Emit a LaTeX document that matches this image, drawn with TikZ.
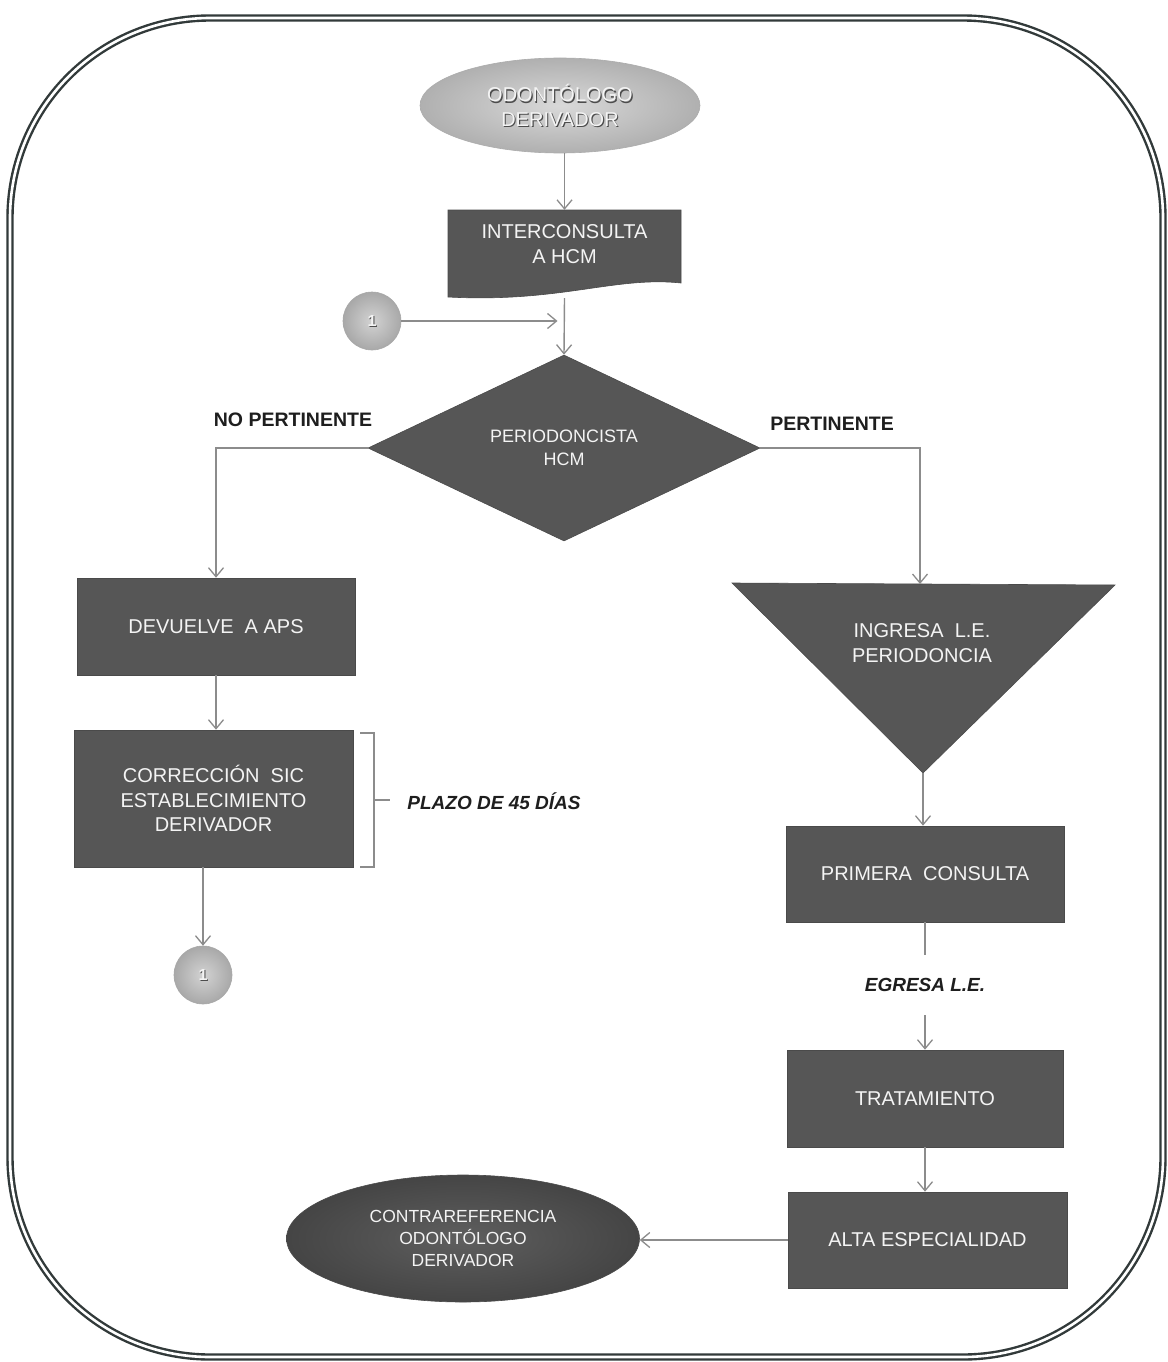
\documentclass[tikz,border=0pt]{standalone}
\usepackage{fontspec}
\setmainfont{Liberation Sans}
\usetikzlibrary{shapes.geometric,arrows.meta,calc}
\definecolor{boxgray}{HTML}{565656}
\definecolor{boxedge}{HTML}{4A4A4A}
\definecolor{conngray}{HTML}{8C8C8C}
\definecolor{framecol}{HTML}{323A3A}
\definecolor{txtwhite}{HTML}{F4F4F4}
\definecolor{lbl}{HTML}{1E1E1E}
\begin{document}
\begin{tikzpicture}[x=1pt,y=-1pt,
  box/.style={rectangle, fill=boxgray, draw=boxedge, line width=0.6pt, text=txtwhite,
    font=\fontsize{20}{24.5}\selectfont, align=center, inner sep=0pt},
  txt/.style={text=txtwhite, font=\fontsize{20}{24.5}\selectfont, align=center, inner sep=0pt},
  shadowtxt/.style={text=black!70, font=\fontsize{20}{24.5}\selectfont, align=center, inner sep=0pt},
  lightell/.style={ellipse, inner color=gray!30, outer color=gray!62, draw=gray!65, line width=0.6pt,
    inner sep=0pt},
  darkell/.style={ellipse, inner color=boxgray!95, outer color=boxgray!80!black, draw=boxedge, line width=0.6pt,
    text=txtwhite, font=\fontsize{17.5}{22}\selectfont, align=center, inner sep=0pt},
  conncirc/.style={circle, minimum size=58pt, inner sep=0pt, inner color=gray!35, outer color=gray!68,
    draw=gray!68, line width=0.6pt},
  onetxt/.style={text=txtwhite, font=\fontsize{16}{18}\selectfont\bfseries, inner sep=0pt},
  oneshadow/.style={text=black!70, font=\fontsize{16}{18}\selectfont\bfseries, inner sep=0pt},
  conn/.style={draw=conngray, line width=1.4pt, -{Straight Barb[length=9pt,width=15pt,line width=1.3pt]}},
  plainconn/.style={draw=conngray, line width=1.4pt},
  boldlbl/.style={text=lbl, font=\fontsize{19.5}{22}\selectfont\bfseries, inner sep=0pt},
  itlbl/.style={text=lbl, font=\fontsize{19}{22}\selectfont\bfseries\itshape, inner sep=0pt}
]
\useasboundingbox (0,0) rectangle (1167,1362);
\fill[white] (0,0) rectangle (1167,1362);

% outer frame
\draw[framecol, line width=2.4pt, double=white, double distance=2.6pt, rounded corners=200pt]
  (10,18) rectangle (1163,1357);

% top ellipse
\node[lightell, minimum width=280pt, minimum height=95pt] (odo) at (560,105.5) {};
\node[shadowtxt] (odoshadow) at (561.2,106.7) {ODONTÓLOGO\\DERIVADOR};
\node[txt] (odotxt) at (560,105.5) {ODONTÓLOGO\\DERIVADOR};

% document shape
\node[minimum width=233pt, minimum height=88pt, inner sep=0pt] (inter) at (564.5,254) {};
\fill[boxgray, draw=boxedge, line width=0.6pt] (448,210) -- (681,210) -- (681,283)
  .. controls (615,276) and (560,303) .. (448,297) -- cycle;
\node[txt] (intertxt) at (564.5,244) {INTERCONSULTA\\A HCM};

% connector circle 1
\node[conncirc] (c1) at (372,321) {};
\node[oneshadow] (c1s) at (373,322) {1};
\node[onetxt] (c1t) at (372,321) {1};

% decision
\node[diamond, minimum width=392pt, minimum height=186pt, inner sep=0pt, fill=boxgray, draw=boxedge,
  line width=0.6pt, text=txtwhite, font=\fontsize{18}{23}\selectfont, align=center] (dia) at (564,448)
  {PERIODONCISTA\\HCM};

\node[boldlbl] (nopert) at (293,420) {NO PERTINENTE};
\node[boldlbl] (pert) at (832,424) {PERTINENTE};

% left branch
\node[box, minimum width=278pt, minimum height=97pt] (dev) at (216,626.5) {DEVUELVE\ \ A APS};
\node[box, minimum width=279pt, minimum height=137pt] (corr) at (213.5,798.5)
  {CORRECCIÓN\ \ SIC\\ESTABLECIMIENTO\\DERIVADOR};
\node[conncirc] (c2) at (203,975) {};
\node[oneshadow] (c2s) at (204,976) {1};
\node[onetxt] (c2t) at (203,975) {1};

% bracket
\coordinate (bt) at (360,733);
\coordinate (bb) at (360,867);
\draw[conngray, line width=1.2pt] (bt) -- ++(14,0) -- ($(bb)+(14,0)$) -- (bb);
\coordinate (bm) at (374,800);
\node[itlbl] (plazo) at (494,801) {PLAZO DE 45 DÍAS};
\draw[conngray, line width=1.2pt] (bm) -- ($(bm)+(16,0)$);

% right branch
\fill[boxgray, draw=boxedge, line width=0.6pt] (732,583) coordinate (tl) -- (1115,585) coordinate (tr)
  -- (923,773) coordinate (tribot) -- cycle;
\coordinate (tritop) at (920,584);
\node[txt] (tri) at (922,643) {INGRESA\ \ L.E.\\PERIODONCIA};

\node[box, minimum width=278pt, minimum height=96pt] (pc) at (925,874) {PRIMERA\ \ CONSULTA};
\node[itlbl, minimum height=60pt] (egr) at (925,985) {EGRESA L.E.};
\node[box, minimum width=276pt, minimum height=97pt] (tra) at (925,1098.5) {TRATAMIENTO};
\node[box, minimum width=279pt, minimum height=96pt] (alta) at (927.5,1240) {ALTA ESPECIALIDAD};

\node[darkell, minimum width=353pt, minimum height=127pt] (cref) at (463,1238.5)
  {CONTRAREFERENCIA\\ODONTÓLOGO\\DERIVADOR};

% connectors
\draw[conn] (inter.north |- odo.south) -- (inter.north);
\draw[conn] (inter.south) -- (dia.north);
\draw[conn] (c1.east) -- ($(c1 -| inter.south)+(-7,0)$);
\draw[conn] (dia.west) -| (dev.north);
\draw[conn] (dev.south) -- (dev.south |- corr.north);
\draw[conn] (c2 |- corr.south) -- (c2.north);
\draw[conn] (dia.east) -| (tritop);
\draw[conn] (tribot) -- (tribot |- pc.north);
\draw[plainconn] (pc.south) -- (egr.north);
\draw[conn] (egr.south) -- (tra.north);
\draw[conn] (tra.south) -- (tra.south |- alta.north);
\draw[conn] (alta.west) -- (alta.west -| cref.east);
\end{tikzpicture}
\end{document}
